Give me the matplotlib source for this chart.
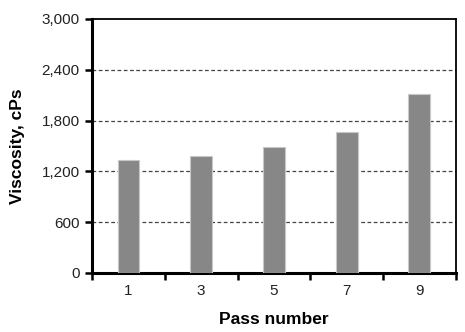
import matplotlib
matplotlib.use("Agg")
import matplotlib.pyplot as plt
from matplotlib.ticker import FuncFormatter

passes = ["1", "3", "5", "7", "9"]
viscosity = [1330, 1385, 1490, 1665, 2115]
yticks = [0, 600, 1200, 1800, 2400, 3000]

plt.rcParams['font.family'] = ['Liberation Sans', 'DejaVu Sans']

fig = plt.figure(figsize=(4.65, 3.32), dpi=100)
ax = fig.add_axes([0.198, 0.178, 0.782, 0.765])

x = list(range(len(passes)))
ax.bar(x, viscosity, width=0.3, color='#878787', edgecolor='#c8c8c8', linewidth=0.8, zorder=3)

ax.set_xlim(-0.5, len(passes) - 0.5)
ax.set_ylim(0, 3000)
ax.set_yticks(yticks)
ax.yaxis.set_major_formatter(FuncFormatter(lambda v, p: f"{int(v):,}"))
ax.set_xticks(x)
ax.set_xticklabels(passes)
ax.set_xticks([i - 0.5 for i in range(len(passes) + 1)], minor=True)
ax.tick_params(axis='x', which='major', length=0, pad=8, labelsize=11)
ax.tick_params(axis='x', which='minor', length=5, width=1.8, direction='out')
ax.tick_params(axis='y', length=5, width=1.8, direction='out', labelsize=11, pad=4, labelcolor='#222222')
ax.tick_params(axis='x', labelcolor='#222222')

for y in yticks[1:-1]:
    ax.axhline(y, color='#444444', linestyle=(0, (3, 2)), linewidth=0.9, zorder=1)

for s in ['left', 'bottom']:
    ax.spines[s].set_linewidth(2.2)
for s in ['top', 'right']:
    ax.spines[s].set_linewidth(1.3)

ax.set_ylabel("Viscosity, cPs", fontsize=12.5, fontweight='bold', labelpad=12)
ax.set_xlabel("Pass number", fontsize=12.5, fontweight='bold', labelpad=10)

fig.savefig("out.png", dpi=100)
